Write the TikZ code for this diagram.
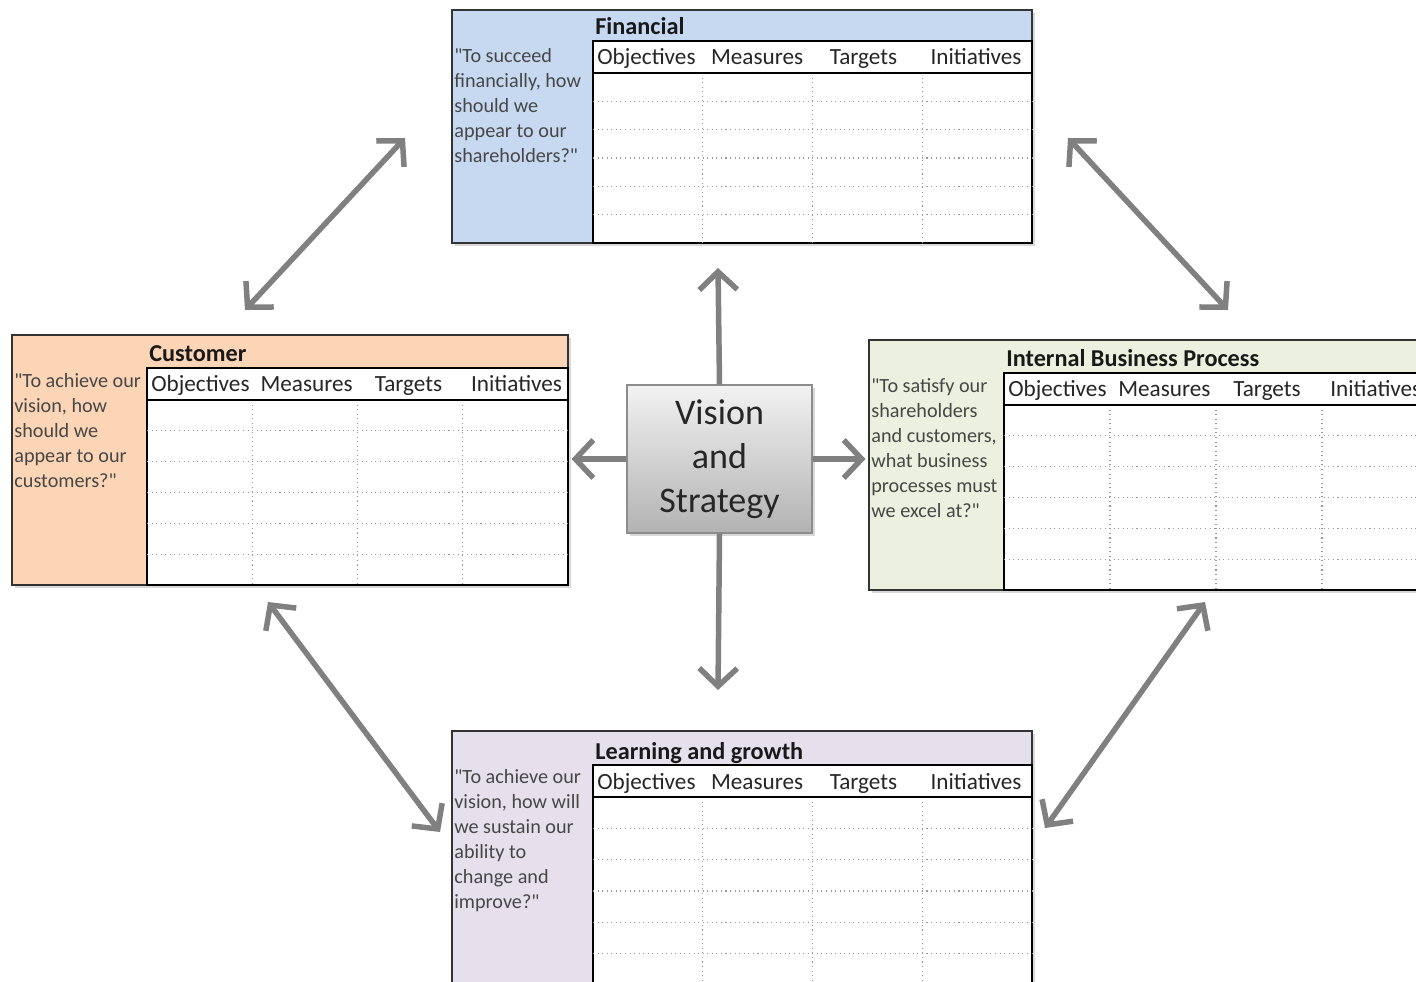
\documentclass[tikz,border=0pt]{standalone}
\usepackage{fontspec}
\setmainfont{Carlito}[Ligatures=TeXOff]
\usetikzlibrary{arrows.meta,shadows}

\definecolor{finblue}{HTML}{C6D9F1}
\definecolor{cusorange}{HTML}{FBD5B5}
\definecolor{ibpgreen}{HTML}{EBF1DE}
\definecolor{lrnpurple}{HTML}{E5E0EC}
\definecolor{arrowgray}{HTML}{808080}

\begin{document}
\begin{tikzpicture}[x=0.02cm, y=-0.02cm,
    >={Straight Barb[length=3.6mm,width=7.6mm]},
    panel/.style = {draw=black!80, line width=1.1pt, anchor=north west, inner sep=0, outer sep=0,
                    drop shadow={shadow xshift=0.06cm, shadow yshift=-0.06cm, opacity=0.3}},
    tablebox/.style = {draw=black, line width=1.4pt, fill=white, anchor=north west, inner sep=0, outer sep=0},
    gridline/.style = {draw=black!40, dotted, line width=0.6pt},
    title/.style = {anchor=base west, inner sep=0, font=\fontsize{13.8}{16}\selectfont\bfseries, text=black!90},
    question/.style = {anchor=north west, inner sep=0, align=left, font=\fontsize{11.5}{14.2}\selectfont, text=black!72},
    head/.style = {anchor=base west, inner sep=0, font=\fontsize{13.2}{15}\selectfont, text=black!85},
    vision/.style = {draw=black!45, line width=0.8pt, top color=black!5, bottom color=black!30,
                     minimum width=3.7cm, minimum height=2.96cm, align=center,
                     font=\fontsize{20.5}{25}\selectfont, text=black!85,
                     drop shadow={shadow xshift=0.06cm, shadow yshift=-0.06cm, opacity=0.3}},
    link/.style = {draw=arrowgray, line width=0.11cm}]

    \useasboundingbox (0,0) rectangle (1416,982);
    \clip (0,0) rectangle (1416,982);

    % the four perspectives
    \foreach \p/\X/\Y/\W/\H/\L/\T/\col/\ttl/\q in {
        fin/452/10/580/233/141/31/finblue/Financial/{"To succeed\\financially, how\\should we\\appear to our\\shareholders?"},
        cus/12/335/556/250/135/33/cusorange/Customer/{"To achieve our\\vision, how\\should we\\appear to our\\customers?"},
        ibp/869/340/559/250/135/33/ibpgreen/Internal Business Process/{"To satisfy our\\shareholders\\and customers,\\what business\\processes must\\we excel at?"},
        lrn/452/731/580/254/141/34/lrnpurple/Learning and growth/{"To achieve our\\vision, how will\\we sustain our\\ability to\\change and\\improve?"}}
    {
        \node[panel, fill=\col, minimum width=\W*0.02cm, minimum height=\H*0.02cm] (\p) at (\X,\Y) {};
        \node[title] (\p-title) at (\X+\L+2,\Y+\T-6) {\ttl};
        \node[question] (\p-q) at (\X+2,\Y+38) {\q};
        \node[tablebox, minimum width={(\W-\L)*0.02cm}, minimum height={(\H-\T)*0.02cm}] (\p-tab) at (\X+\L,\Y+\T) {};
        \foreach \i in {1,2,3}
            \draw[gridline] ({\X+\L+\i*(\W-\L)/4},\Y+\T+32) -- ({\X+\L+\i*(\W-\L)/4},\Y+\H);
        \foreach \j in {1,...,5}
            \draw[gridline] (\X+\L,{\Y+\T+32+\j*(\H-\T-32)/6}) -- (\X+\W,{\Y+\T+32+\j*(\H-\T-32)/6});
        \draw[black, line width=1.4pt] (\X+\L,\Y+\T+32) -- (\X+\W,\Y+\T+32);
        \foreach \lab/\dx [count=\i from 0] in {Objectives/4, Measures/8, Targets/17, Initiatives/8}
            \node[head] (\p-h\i) at ({\X+\L+\i*(\W-\L)/4+\dx},\Y+\T+24) {\lab};
    }

    % centre
    \node[vision] (vis) at (719.5,459) {Vision\\and\\Strategy};

    \coordinate (up) at (718,268);
    \coordinate (down) at (718,690);
    \coordinate (fl1) at (405,138);
    \coordinate (fl2) at (245,310);
    \coordinate (fr1) at (1068,138);
    \coordinate (fr2) at (1228,310);
    \coordinate (ll1) at (268,602);
    \coordinate (ll2) at (440,832);
    \coordinate (lr1) at (1205,602);
    \coordinate (lr2) at (1045,828);

    \draw[link, ->] (vis.north) -- (up);
    \draw[link, ->] (vis.south) -- (down);
    \draw[link, ->, shorten >=2pt] (vis.west) -- (vis.west -| cus.east);
    \draw[link, ->, shorten >=2pt] (vis.east) -- (vis.east -| ibp.west);
    \draw[link, <->] (fl1) -- (fl2);
    \draw[link, <->] (fr1) -- (fr2);
    \draw[link, <->] (ll1) -- (ll2);
    \draw[link, <->] (lr1) -- (lr2);

\end{tikzpicture}
\end{document}
